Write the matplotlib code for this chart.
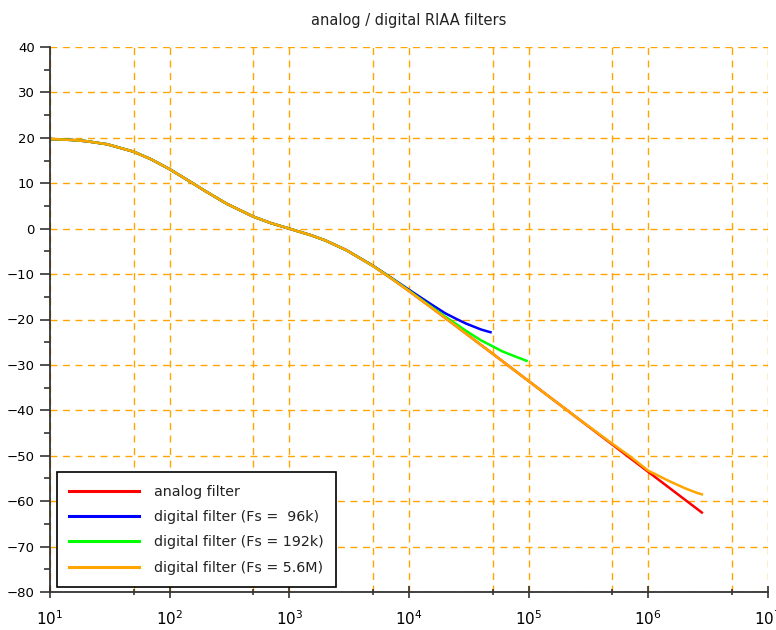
import numpy as np
import matplotlib
matplotlib.use("Agg")
import matplotlib.pyplot as plt
from matplotlib.ticker import FixedLocator, FuncFormatter

# common low band (all filters agree there)
freq_low = [10, 15, 20, 30, 50, 70, 100, 150, 200, 300, 500, 700, 1e3, 1.5e3, 2e3, 3e3]
db_low = [19.74, 19.54, 19.27, 18.59, 16.95, 15.28, 13.09, 10.27, 8.22, 5.48, 2.65, 1.23, 0.0, -1.40, -2.59, -4.74]

# analog filter
freq_analog_hi = [5e3, 7e3, 1e4, 1.5e4, 2e4, 3e4, 5e4, 7e4, 1e5, 2e5, 3e5, 5e5, 7e5, 1e6, 1.5e6, 2e6, 2.8e6]
db_analog_hi = [-8.21, -10.82, -13.73, -17.16, -19.62, -23.12, -27.54, -30.46, -33.56, -39.58, -43.10, -47.53, -50.46, -53.56, -57.08, -59.58, -62.50]

# digital filter Fs = 96k
freq_96k_hi = [5e3, 7e3, 1e4, 1.5e4, 2e4, 2.5e4, 3e4, 3.5e4, 4e4, 4.5e4, 4.8e4]
db_96k_hi = [-8.15, -10.70, -13.45, -16.50, -18.60, -19.90, -20.90, -21.60, -22.20, -22.60, -22.80]

# digital filter Fs = 192k
freq_192k_hi = [5e3, 7e3, 1e4, 1.5e4, 2e4, 3e4, 4e4, 5e4, 6e4, 7e4, 8e4, 9e4, 9.6e4]
db_192k_hi = [-8.20, -10.78, -13.65, -17.00, -19.35, -22.50, -24.60, -25.90, -27.00, -27.70, -28.30, -28.80, -29.10]

# digital filter Fs = 5.6M
freq_56M_hi = [5e3, 7e3, 1e4, 1.5e4, 2e4, 3e4, 5e4, 7e4, 1e5, 2e5, 3e5, 5e5, 7e5, 1e6, 1.5e6, 2e6, 2.5e6, 2.8e6]
db_56M_hi = [-8.21, -10.82, -13.73, -17.16, -19.62, -23.12, -27.54, -30.46, -33.56, -39.58, -43.05, -47.35, -50.10, -53.30, -55.60, -57.10, -58.10, -58.50]

series = [
    ("analog filter", freq_analog_hi, db_analog_hi, "#ff0000"),
    ("digital filter (Fs =  96k)", freq_96k_hi, db_96k_hi, "#0000ff"),
    ("digital filter (Fs = 192k)", freq_192k_hi, db_192k_hi, "#00ff00"),
    ("digital filter (Fs = 5.6M)", freq_56M_hi, db_56M_hi, "#ffa500"),
]

fig = plt.figure(figsize=(7.76, 6.30), dpi=100)
ax = fig.add_axes([50/776, 1-592/630, 718/776, 545/630])

for label, f_hi, d_hi, col in series:
    ax.plot(freq_low + f_hi, db_low + d_hi, color=col, linewidth=1.8, label=label)

ax.set_xscale("log")
ax.set_xlim(10, 1e7)
ax.set_ylim(-80, 40)

# ticks
ax.xaxis.set_major_locator(FixedLocator([10.0**k for k in range(1, 8)]))
ax.xaxis.set_minor_locator(FixedLocator([5*10.0**k for k in range(1, 7)]))
ax.xaxis.set_major_formatter(FuncFormatter(lambda v, p: r"$10^{%d}$" % round(np.log10(v))))
ax.xaxis.set_minor_formatter(FuncFormatter(lambda v, p: ""))
ax.set_yticks(np.arange(-80, 41, 10))
ax.set_yticks(np.arange(-75, 40, 10), minor=True)
ax.tick_params(axis="y", which="major", length=7.5, width=1.2, labelsize=9.5, color="#333333")
ax.tick_params(axis="y", which="minor", length=4, width=1.2, color="#333333")
ax.tick_params(axis="x", which="major", direction="inout", length=9, width=1.2, pad=8, labelsize=11, color="#333333")
ax.tick_params(axis="x", which="minor", direction="inout", length=5, width=1.2, color="#333333")

ax.grid(True, which="both", axis="x", color="#ffa500", linestyle=(0, (5, 4)), linewidth=1)
ax.grid(True, which="major", axis="y", color="#ffa500", linestyle=(0, (5, 4)), linewidth=1)
ax.set_axisbelow(True)

for s in ["top", "right"]:
    ax.spines[s].set_visible(False)
ax.spines["left"].set_linewidth(1.3)
ax.spines["bottom"].set_linewidth(1.3)
ax.spines["left"].set_color("#333333")
ax.spines["bottom"].set_color("#333333")

fig.text(409/776, 1-20/630, "analog / digital RIAA filters", ha="center", va="center", fontsize=10.5, color="#222222")

leg = ax.legend(loc="lower left", bbox_to_anchor=(0.0097, 0.009), borderaxespad=0,
                fontsize=10.3, handlelength=4.9, handletextpad=1.05, labelspacing=0.8,
                borderpad=0.85, fancybox=False, framealpha=1, edgecolor="black")
leg.get_frame().set_linewidth(1.2)
for t in leg.get_texts():
    t.set_color("#222222")
for line in leg.get_lines():
    line.set_linewidth(2.2)

fig.savefig("out.png", dpi=100)
